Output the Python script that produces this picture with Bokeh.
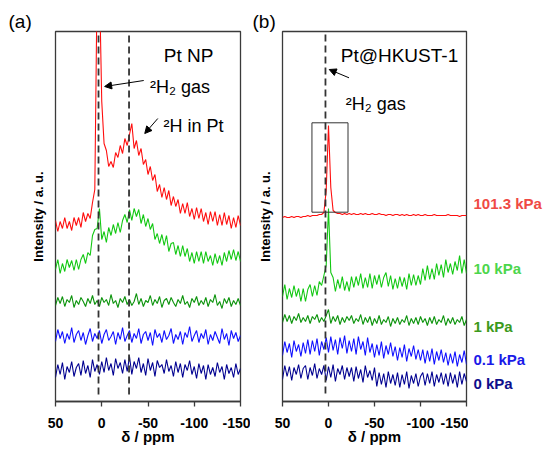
import numpy as np
from bokeh.plotting import figure
from bokeh.layouts import row
from bokeh.models import Range1d, FixedTicker, Label, Arrow, NormalHead, Title
from bokeh.embed import file_html
from bokeh.resources import INLINE

FONT = "Liberation Sans"

# chemical shift sampling (ppm) shared by all spectra
ppm = np.linspace(50, -150, 81)
x_ticks = [50, 0, -50, -100, -150]
x_tick_labels = ["50", "0", "-50", "-100", "-150"]

# ---- panel (a): Pt NP (intensity, a.u., offset traces) ----
a_red = [181,170,180,173,184,173,180,171,184,176,
         184,174,189,180,188,183,199,212,420,420,
         300,258,251,235,240,234,249,244,256,248,
         263,256,267,278,253,261,246,253,237,242,
         227,235,221,227,210,217,204,214,202,211,
         196,205,195,202,188,198,188,199,185,193,
         182,194,183,193,180,189,177,190,180,190,
         176,187,176,189,177,186,173,184,174,186,
         176]
a_green = [132,142,128,138,130,142,134,141,131,142,
           132,142,147,138,149,146,166,172,173,193,
           162,170,159,174,166,177,168,179,169,181,
           187,179,192,181,193,185,192,178,187,175,
           183,172,178,162,168,158,167,156,166,150,
           158,159,147,156,145,156,145,153,140,149,
           138,150,140,150,138,150,140,146,136,148,
           138,146,136,149,140,151,142,152,141,150,
           140]
a_dkgreen = [96,104,98,105,95,102,99,106,94,101,
             97,104,100,95,103,98,106,97,101,95,
             104,99,102,96,107,98,101,94,103,99,
             105,97,102,96,100,108,97,103,95,101,
             99,106,96,102,98,105,94,101,103,97,
             104,99,95,102,98,106,97,100,94,103,
             99,105,96,101,97,104,95,102,99,107,
             96,100,93,103,98,104,95,101,97,103,
             96]
a_blue = [60,72,63,70,58,68,62,74,59,67,
          71,61,69,57,66,73,60,68,63,71,
          58,67,72,61,65,70,57,69,62,74,
          60,66,71,59,68,63,73,58,67,70,
          61,69,56,72,64,68,59,71,62,66,
          73,58,67,62,70,57,69,64,75,60,
          66,71,59,68,63,72,57,67,61,70,
          64,58,73,62,68,56,71,63,69,60,
          66]
a_navy = [24,37,27,39,22,35,29,40,25,34,
          38,26,41,28,36,24,42,30,37,27,
          40,29,44,31,38,26,43,33,39,28,
          42,30,45,27,40,33,44,29,38,26,
          43,31,39,25,41,34,37,28,42,30,
          36,25,40,29,38,24,37,31,41,27,
          35,23,38,28,36,22,37,27,34,25,
          39,29,35,22,37,28,34,24,38,27,
          33]

# ---- panel (b): Pt@HKUST-1 at different 2H2 pressures ----
b_red = [184,185,184,184,185,184,185,185,184,185,
         185,186,185,186,186,186,187,187,189,211,
         276,214,191,189,188,188,187,188,187,188,
         187,188,187,187,188,187,188,187,187,188,
         187,187,188,187,187,186,187,187,186,187,
         187,186,187,186,187,186,186,187,186,187,
         186,186,187,186,186,186,187,186,186,186,
         186,186,187,186,186,186,186,185,186,186,
         186]
b_green = [105,117,102,113,104,116,105,113,100,113,
           100,112,117,105,116,106,120,116,126,136,
           193,129,124,110,122,113,125,111,120,110,
           125,114,125,116,128,113,124,114,128,113,
           126,117,127,114,124,129,115,126,112,123,
           113,125,115,124,112,128,116,127,116,126,
           117,133,121,136,122,133,122,138,126,137,
           124,142,129,138,127,140,131,146,128,142,
           128]
b_dkgreen = [79,87,80,86,78,85,81,88,79,84,
             80,86,78,85,82,87,79,84,80,86,
             92,78,85,80,86,77,84,79,85,81,
             86,78,83,80,87,77,84,79,85,76,
             83,78,86,77,82,79,85,75,83,78,
             84,77,82,79,86,76,83,78,84,77,
             85,79,83,76,84,78,85,77,82,79,
             86,76,83,78,84,77,82,79,85,76,
             82]
b_blue = [46,60,49,58,44,61,50,57,45,59,
          48,62,47,61,50,63,46,60,52,64,
          49,65,51,62,47,64,53,66,48,61,
          50,63,47,65,52,60,46,64,49,
          58,44,57,46,60,43,56,47,59,45,
          55,41,54,44,57,40,53,45,56,42,
          52,41,
          52,38,51,40,53,37,50,41,52,39,
          49,36,48,38,50,35,47,39,51,37]
b_navy = [22,36,25,35,21,34,27,37,23,33,
          36,22,34,26,38,23,33,27,36,21,
          35,24,37,20,33,27,36,22,34,25,
          34,20,35,23,32,19,36,24,31,21,34,
          15,29,17,28,14,30,18,27,16,29,
          14,27,17,30,13,26,18,28,15,25,
          29,16,28,18,30,15,27,19,29,17,
          28,15,29,18,27,14,30,17,28,20]

pressure_labels = ["101.3 kPa", "10 kPa", "1 kPa", "0.1 kPa", "0 kPa"]
pressure_label_y = [198, 133, 75, 42, 18]

gas_shift_a = 3.5
pt_shift_a = -29.5
gas_shift_b = 3.3

C_RED, C_GREEN, C_DKGREEN, C_BLUE, C_NAVY = "#ff0d0d", "#12c812", "#0b930b", "#1010ff", "#000090"
LBL_COLORS = ["#ef4a44", "#4cd64c", "#3c9a1c", "#1a1ae8", "#0e0e8c"]
FRAME = "#3a3a3a"
H = 450
TOP = 31
BOTTOM = 49


def make_fig(width, left, right, panel_tag, tag_offset):
    p = figure(width=width, height=H, x_range=Range1d(50, -150), y_range=Range1d(0, 370),
               output_backend="svg", toolbar_location=None,
               min_border_left=left, min_border_right=right,
               min_border_top=TOP, min_border_bottom=BOTTOM)
    p.add_layout(Title(text=panel_tag, align="left", offset=tag_offset, standoff=0,
                       text_font=FONT, text_font_size="19px", text_font_style="normal",
                       text_color="black"), "above")
    p.grid.visible = False
    p.outline_line_color = FRAME
    p.outline_line_width = 1.3
    xa = p.xaxis[0]
    xa.ticker = FixedTicker(ticks=x_ticks)
    xa.major_label_overrides = dict(zip(x_ticks, x_tick_labels))
    xa.major_tick_in = 0
    xa.major_tick_out = 5
    xa.minor_tick_in = 0
    xa.minor_tick_out = 0
    xa.minor_tick_line_color = None
    xa.axis_line_color = FRAME
    xa.axis_line_width = 1.3
    xa.major_tick_line_color = FRAME
    xa.major_tick_line_width = 1.3
    xa.major_label_text_font = FONT
    xa.major_label_text_font_size = "14px"
    xa.major_label_text_font_style = "bold"
    xa.major_label_text_color = "black"
    xa.major_label_standoff = 11
    xa.axis_label = "δ / ppm"
    xa.axis_label_text_font = FONT
    xa.axis_label_text_font_size = "15px"
    xa.axis_label_text_font_style = "bold"
    xa.axis_label_text_color = "black"
    xa.axis_label_standoff = -3
    ya = p.yaxis[0]
    ya.ticker = FixedTicker(ticks=[])
    ya.major_tick_in = 0
    ya.major_tick_out = 0
    ya.minor_tick_in = 0
    ya.minor_tick_out = 0
    ya.major_label_standoff = 0
    ya.axis_line_color = None
    ya.axis_label = "Intensity / a. u."
    ya.axis_label_text_font = FONT
    ya.axis_label_text_font_size = "13px"
    ya.axis_label_text_font_style = "bold"
    ya.axis_label_text_color = "black"
    ya.axis_label_standoff = 10
    return p


def add_label(p, x, y, text, size, bold=False, color="black"):
    p.add_layout(Label(x=x, y=y, text=text, text_font=FONT, text_font_size=size,
                       text_font_style="bold" if bold else "normal", text_color=color,
                       text_align="left", text_baseline="alphabetic"))


def add_arrow(p, x0, y0, x1, y1):
    p.add_layout(Arrow(end=NormalHead(size=7, fill_color="black", line_color="black", line_width=1),
                       x_start=x0, y_start=y0, x_end=x1, y_end=y1,
                       line_color="black", line_width=1))


# ---- panel (a) ----
pa = make_fig(250, 55, 10, "(a)", -47)
for ys, c in [(a_navy, C_NAVY), (a_blue, C_BLUE), (a_dkgreen, C_DKGREEN),
              (a_green, C_GREEN), (a_red, C_RED)]:
    pa.line(ppm, ys, line_color=c, line_width=1.1)
for xs in (gas_shift_a, pt_shift_a):
    pa.line([xs, xs], [7, 370], line_color="#333333", line_width=1.8, line_dash="7 4")
add_label(pa, -67.1, 346.5, "Pt NP", "19px")
add_label(pa, -52.2, 314.3, "²H₂ gas", "18px")
add_label(pa, -66.7, 275.3, "²H in Pt", "18px")
add_arrow(pa, -45.4, 321, -3.1, 315)
add_arrow(pa, -60.6, 283, -46.5, 268)

# ---- panel (b) ----
pb = make_fig(218, 32, 2, "(b)", -30)
for ys, c in [(b_navy, C_NAVY), (b_blue, C_BLUE), (b_dkgreen, C_DKGREEN),
              (b_green, C_GREEN), (b_red, C_RED)]:
    pb.line(ppm, ys, line_color=c, line_width=1.1)
pb.line([gas_shift_b, gas_shift_b], [8, 370], line_color="#333333", line_width=1.8, line_dash="7 4")
pb.quad(left=18, right=-21.2, bottom=189.3, top=278.7, fill_color=None,
        line_color="#333333", line_width=1)
add_label(pb, -13.3, 346, "Pt@HKUST-1", "19px")
add_label(pb, -18.7, 297.5, "²H₂ gas", "18px")
add_arrow(pb, -22.3, 323.7, -0.8, 332)

# ---- pressure labels to the right of panel (b) ----
pc = figure(width=79, height=H, x_range=Range1d(0, 79), y_range=Range1d(0, 370),
            x_axis_location=None, y_axis_location=None,
            output_backend="svg", toolbar_location=None,
            min_border_left=0, min_border_right=0,
            min_border_top=TOP, min_border_bottom=BOTTOM)
pc.grid.visible = False
pc.outline_line_color = None
for txt, yv, col in zip(pressure_labels, pressure_label_y, LBL_COLORS):
    add_label(pc, 5, yv, txt, "15px", bold=True, color=col)

layout = row(pa, pb, pc)
open("out.html", "w").write(file_html(layout, INLINE))
